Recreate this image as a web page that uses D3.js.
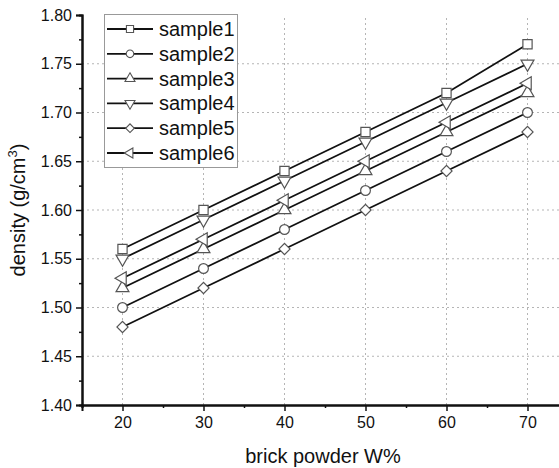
<!DOCTYPE html>
<html>
<head>
<meta charset="utf-8">
<script src="https://cdn.jsdelivr.net/npm/d3@7"></script>
<style>
  body { margin: 0; background: #fff; }
  text { font-family: "Liberation Sans", Arial, sans-serif; fill: #111; }
</style>
</head>
<body>
<div id="chart"></div>
<script>
var xValues = [20, 30, 40, 50, 60, 70]
var seriesNames = ['sample1', 'sample2', 'sample3', 'sample4', 'sample5', 'sample6']
var sample1 = [1.56, 1.60, 1.64, 1.68, 1.72, 1.77]
var sample2 = [1.50, 1.54, 1.58, 1.62, 1.66, 1.70]
var sample3 = [1.52, 1.56, 1.60, 1.64, 1.68, 1.72]
var sample4 = [1.55, 1.59, 1.63, 1.67, 1.71, 1.75]
var sample5 = [1.48, 1.52, 1.56, 1.60, 1.64, 1.68]
var sample6 = [1.53, 1.57, 1.61, 1.65, 1.69, 1.73]
var yTicks = [1.40, 1.45, 1.50, 1.55, 1.60, 1.65, 1.70, 1.75, 1.80]
var xTicks = [20, 30, 40, 50, 60, 70]

var allSeries = [sample1, sample2, sample3, sample4, sample5, sample6]

var W = 559, H = 468
var margin = {top: 15, left: 82, bottom: 63}
var plotBottom = H - margin.bottom

var svg = d3.select('#chart').append('svg')
  .attr('width', W).attr('height', H)

var x = d3.scaleLinear().domain([15, 75]).range([margin.left, margin.left + 60 * 8.1])
var y = d3.scaleLinear().domain([1.40, 1.80]).range([plotBottom, margin.top])

// grid
svg.append('g').selectAll('line.gx')
  .data(xTicks).enter().append('line')
  .attr('x1', d => x(d)).attr('x2', d => x(d))
  .attr('y1', plotBottom).attr('y2', margin.top)
  .attr('stroke', '#b5b5b5').attr('stroke-dasharray', '2,3')
svg.append('g').selectAll('line.gy')
  .data(yTicks.slice(1, -1)).enter().append('line')
  .attr('x1', margin.left).attr('x2', W)
  .attr('y1', d => y(d)).attr('y2', d => y(d))
  .attr('stroke', '#b5b5b5').attr('stroke-dasharray', '2,3')

// axes
var xAxis = d3.axisBottom(x).tickValues(xTicks).tickSize(6).tickPadding(6).tickFormat(d3.format('d'))
var xMinor = d3.axisBottom(x).tickValues([15, 25, 35, 45, 55, 65, 75]).tickSize(3).tickFormat('')
var yAxis = d3.axisLeft(y).tickValues(yTicks).tickSize(6).tickPadding(4).tickFormat(d3.format('.2f'))
var yMinor = d3.axisLeft(y).tickValues(d3.range(8).map(i => 1.425 + i * 0.05)).tickSize(3).tickFormat('')

function styleAxis(g) {
  g.select('.domain').attr('stroke', '#111').attr('stroke-width', 2)
  g.selectAll('.tick line').attr('stroke', '#111').attr('stroke-width', 1.5)
  g.selectAll('.tick text').style('font-size', '16px').attr('fill', '#111')
}

svg.append('g').attr('transform', 'translate(0,' + plotBottom + ')').call(xMinor).call(styleAxis)
svg.append('g').attr('transform', 'translate(0,' + plotBottom + ')').call(xAxis).call(styleAxis)
svg.append('g').attr('transform', 'translate(' + margin.left + ',0)').call(yMinor).call(styleAxis)
svg.append('g').attr('transform', 'translate(' + margin.left + ',0)').call(yAxis).call(styleAxis)

svg.append('text')
  .attr('x', 323).attr('y', 463)
  .attr('text-anchor', 'middle')
  .style('font-size', '20px')
  .text('brick powder W%')

var yLabel = svg.append('text')
  .attr('transform', 'translate(25,' + ((plotBottom + margin.top) / 2) + ') rotate(-90)')
  .attr('text-anchor', 'middle')
  .style('font-size', '20px')
yLabel.append('tspan').text('density (g/cm')
yLabel.append('tspan').attr('dy', -8).style('font-size', '13px').text('3')
yLabel.append('tspan').attr('dy', 8).text(')')

// markers
var markers = [
  {type: d3.symbolSquare, size: 85, rot: 0},
  {type: d3.symbolCircle, size: 75, rot: 0},
  {type: d3.symbolTriangle, size: 72, rot: 0},
  {type: d3.symbolTriangle, size: 72, rot: 180},
  {type: d3.symbolSquare, size: 62, rot: 45},
  {type: d3.symbolTriangle, size: 72, rot: -90}
]

var line = d3.line().x((d, i) => x(xValues[i])).y(d => y(d))

allSeries.forEach(function(values, s) {
  svg.append('path')
    .datum(values)
    .attr('d', line)
    .attr('fill', 'none')
    .attr('stroke', '#111')
    .attr('stroke-width', 1.8)
})

allSeries.forEach(function(values, s) {
  var m = markers[s]
  svg.append('g').selectAll('path')
    .data(values).enter().append('path')
    .attr('d', d3.symbol().type(m.type).size(m.size))
    .attr('transform', (d, i) => 'translate(' + x(xValues[i]) + ',' + y(d) + ') rotate(' + m.rot + ')')
    .attr('fill', '#fff')
    .attr('stroke', '#555')
    .attr('stroke-width', 1.2)
})

// legend
var legend = svg.append('g')
legend.append('rect')
  .attr('x', 104.5).attr('y', 14.5)
  .attr('width', 133).attr('height', 153)
  .attr('fill', '#fff').attr('stroke', '#999').attr('stroke-width', 1)

seriesNames.forEach(function(name, s) {
  var ly = 29 + s * 24.8
  var m = markers[s]
  legend.append('line')
    .attr('x1', 107).attr('x2', 153)
    .attr('y1', ly).attr('y2', ly)
    .attr('stroke', '#111').attr('stroke-width', 1.8)
  legend.append('path')
    .attr('d', d3.symbol().type(m.type).size(m.size * 0.6))
    .attr('transform', 'translate(130,' + ly + ') rotate(' + m.rot + ')')
    .attr('fill', '#fff').attr('stroke', '#555').attr('stroke-width', 1.1)
  legend.append('text')
    .attr('x', 159).attr('y', ly + 7)
    .style('font-size', '20px')
    .text(name)
})
</script>
</body>
</html>
